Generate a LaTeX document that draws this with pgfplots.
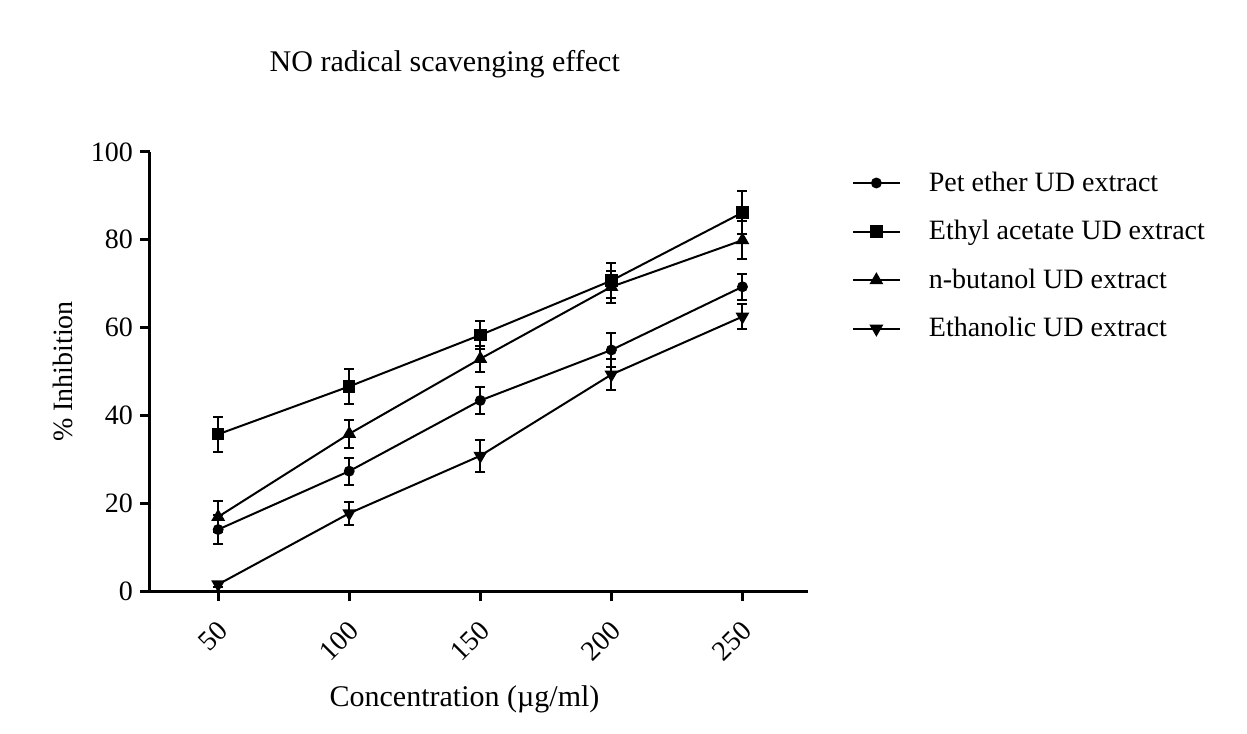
\documentclass[border=0pt]{standalone}
\usepackage{pgfplots}
\pgfplotsset{compat=1.18}
\usepackage{pgfplotstable}
\usepackage{fontspec}
\setmainfont{Liberation Serif}

\pgfplotstableread{
x y e
50 14.0 3.2
100 27.3 3.1
150 43.4 3.1
200 54.9 3.8
250 69.3 3.0
}\petether
\pgfplotstableread{
x y e
50 35.7 4.0
100 46.6 4.0
150 58.3 3.1
200 70.7 4.0
250 86.2 4.9
}\ethylacetate
\pgfplotstableread{
x y e
50 16.9 3.5
100 35.8 3.2
150 52.9 3.0
200 69.3 3.6
250 79.9 4.3
}\butanol
\pgfplotstableread{
x y e
50 1.5 0.5
100 17.7 2.6
150 30.8 3.6
200 49.3 3.5
250 62.5 2.8
}\ethanolic

\pgfplotsset{errs/.style={error bars/.cd,y dir=both,y explicit,
  error bar style={line width=1bp},
  error mark options={rotate=90,mark size=2.5bp,line width=1bp}}}

\begin{document}
\begin{tikzpicture}
\path[use as bounding box] (-75bp,-71.5bp) rectangle (548.5bp,295.5bp);
\begin{axis}[at={(0,0)},anchor=south west,scale only axis,
  width=329bp,height=219.5bp,
  xmin=24,xmax=275,ymin=0,ymax=100,
  axis x line=bottom,axis y line=left,
  axis line style={-,line width=1.5bp},
  xtick={50,100,150,200,250},ytick={0,20,...,100},
  tick align=outside,major tick length=5bp,
  tick style={black,line width=1.5bp},
  /pgf/number format/assume math mode=true,
  tick label style={font=\fontsize{14bp}{16bp}\selectfont},
  x tick label style={rotate=45,anchor=east,yshift=-10.5bp,xshift=-3.75bp},
  label style={font=\fontsize{14bp}{16bp}\selectfont},
  xlabel={Concentration (µg/ml)},
  xlabel style={at={(axis description cs:0.478,-0.247)},anchor=center,font=\fontsize{15bp}{17bp}\selectfont},
  ylabel={\% Inhibition},
  ylabel style={at={(axis description cs:-0.133,0.5)},anchor=center},
  title={NO radical scavenging effect},
  title style={at={(axis description cs:0.448,1.173)},anchor=center,font=\fontsize{15bp}{17bp}\selectfont},
  legend style={draw=none,fill=none,at={(axis description cs:1.057,0.974)},anchor=north west,
    font=\fontsize{14bp}{16bp}\selectfont,row sep=9.1bp,
    nodes={inner xsep=14bp}},
  legend cell align=left,
  legend image code/.code={\draw[mark repeat=2,mark phase=2] plot coordinates {(0bp,0bp)(11.75bp,0bp)(23.5bp,0bp)};},
  every axis plot/.append style={black,line width=1bp},
]
\addplot[mark=*,mark size=2.2bp,errs] table[x=x,y=y,y error=e] {\petether};
\addlegendentry{Pet ether UD extract}
\addplot[mark=square*,mark size=2.6bp,errs] table[x=x,y=y,y error=e] {\ethylacetate};
\addlegendentry{Ethyl acetate UD extract}
\addplot[mark=triangle*,mark size=3bp,errs] table[x=x,y=y,y error=e] {\butanol};
\addlegendentry{n-butanol UD extract}
\addplot[mark=triangle*,mark size=3bp,mark options={rotate=180},errs] table[x=x,y=y,y error=e] {\ethanolic};
\addlegendentry{Ethanolic UD extract}
\end{axis}
\end{tikzpicture}
\end{document}
